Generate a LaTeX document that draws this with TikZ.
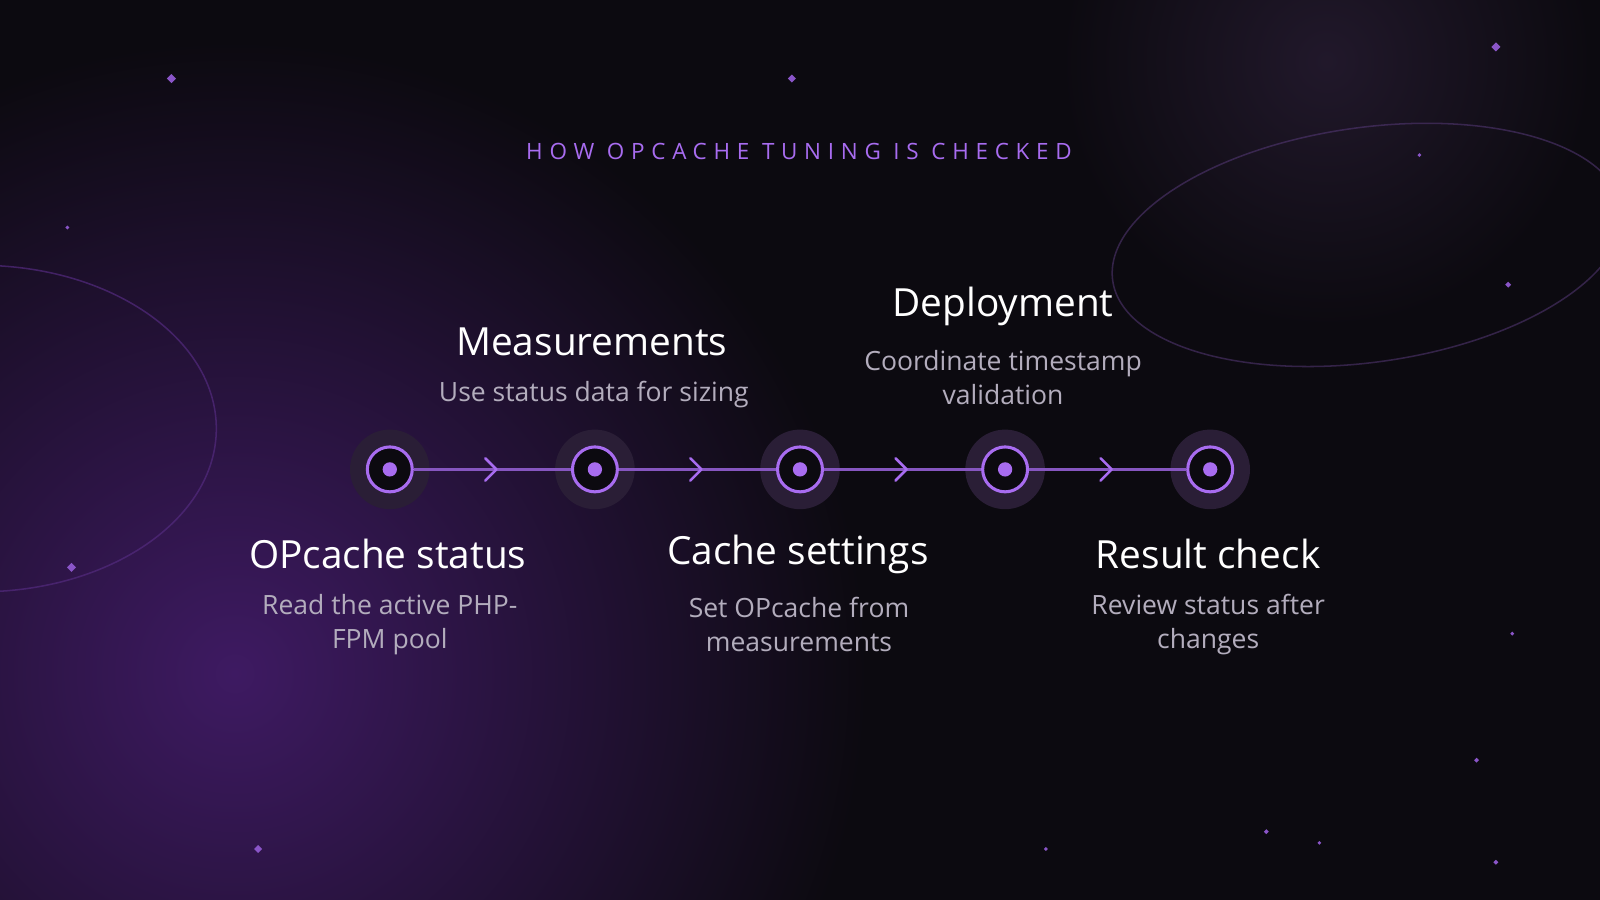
\documentclass[tikz,border=0pt]{standalone}
\usepackage{fontspec}
\setmainfont{Open Sans}
\usetikzlibrary{shapes.geometric}
\definecolor{bg}{HTML}{0C0A10}
\definecolor{glow}{HTML}{3E1A62}
\definecolor{pur}{HTML}{A86CF0}
\definecolor{halo}{HTML}{2A1E36}
\definecolor{sub}{HTML}{B3ADBD}
\definecolor{spark}{HTML}{8A55C8}
\begin{document}
\begin{tikzpicture}[x=1pt,y=-1pt,
 stepnode/.style={circle,draw=pur,line width=3pt,fill=bg,minimum size=44pt,inner sep=0pt},
 title/.style={text=white,font=\fontsize{38}{44}\selectfont},
 desc/.style={text=sub,align=center,font=\fontsize{26}{34}\selectfont},
 link/.style={draw=pur!80!black,line width=2.5pt},
 chev/.style={draw=pur,line width=2.5pt,line cap=round,line join=round},
 sp/.style={diamond,fill=spark,inner sep=0pt}]
\useasboundingbox (0,0) rectangle (1568,882);
\fill[bg] (0,0) rectangle (1568,882);
\begin{scope}
\clip (0,0) rectangle (1568,882);
\shade[inner color=glow,outer color=bg] (230,660) circle (620);
\shade[inner color=halo!70!bg,outer color=bg] (1300,60) circle (260);
\draw[glow!80!pur,line width=1.5pt,opacity=0.7] (-20,420) ellipse [x radius=232,y radius=160];
\draw[halo!60!pur,line width=1.5pt,opacity=0.5,rotate around={8:(1340,240)}] (1340,240) ellipse [x radius=252,y radius=115];
\end{scope}
\foreach \x/\y/\s in {168/77/9,776/77/8,1466/46/9,66/223/4,1391/152/4,1478/279/6,70/556/9,1482/621/4,1447/745/5,1241/815/5,1293/826/4,1025/832/4,253/832/8,1466/845/5}
 \node[sp,minimum size=\s pt] at (\x,\y) {};
\node[text=pur,font=\fontsize{22}{26}\selectfont\addfontfeatures{LetterSpace=30}] (hd) at (783,148) {HOW OPCACHE TUNING IS CHECKED};
\foreach \i/\x in {1/382,2/583,3/784,4/985,5/1186}{
 \fill[halo] (\x,460) circle (39);
 \node[stepnode] (n\i) at (\x,460) {};
 \fill[pur] (\x,460) circle (7);
}
\foreach \a/\b in {1/2,2/3,3/4,4/5}{
 \draw[link] (n\a) -- (n\b) coordinate[pos=0.5] (m\a);
 \draw[chev] ([shift={(-7,-11)}]m\a) -- ([shift={(4,0)}]m\a) -- ([shift={(-7,11)}]m\a);
}
\node[title] (t1) at (380,543) {OPcache status};
\node[desc] (d1) at (382,612) {Read the active PHP-\\FPM pool};
\node[title] (t2) at (580,335) {Measurements};
\node[desc] (d2) at (582,387) {Use status data for sizing};
\node[title] (t3) at (782,543) {Cache settings};
\node[desc] (d3) at (783,612) {Set OPcache from\\measurements};
\node[title] (t4) at (983,300) {Deployment};
\node[desc] (d4) at (983,370) {Coordinate timestamp\\validation};
\node[title] (t5) at (1184,543) {Result check};
\node[desc] (d5) at (1184,612) {Review status after\\changes};
\end{tikzpicture}
\end{document}
